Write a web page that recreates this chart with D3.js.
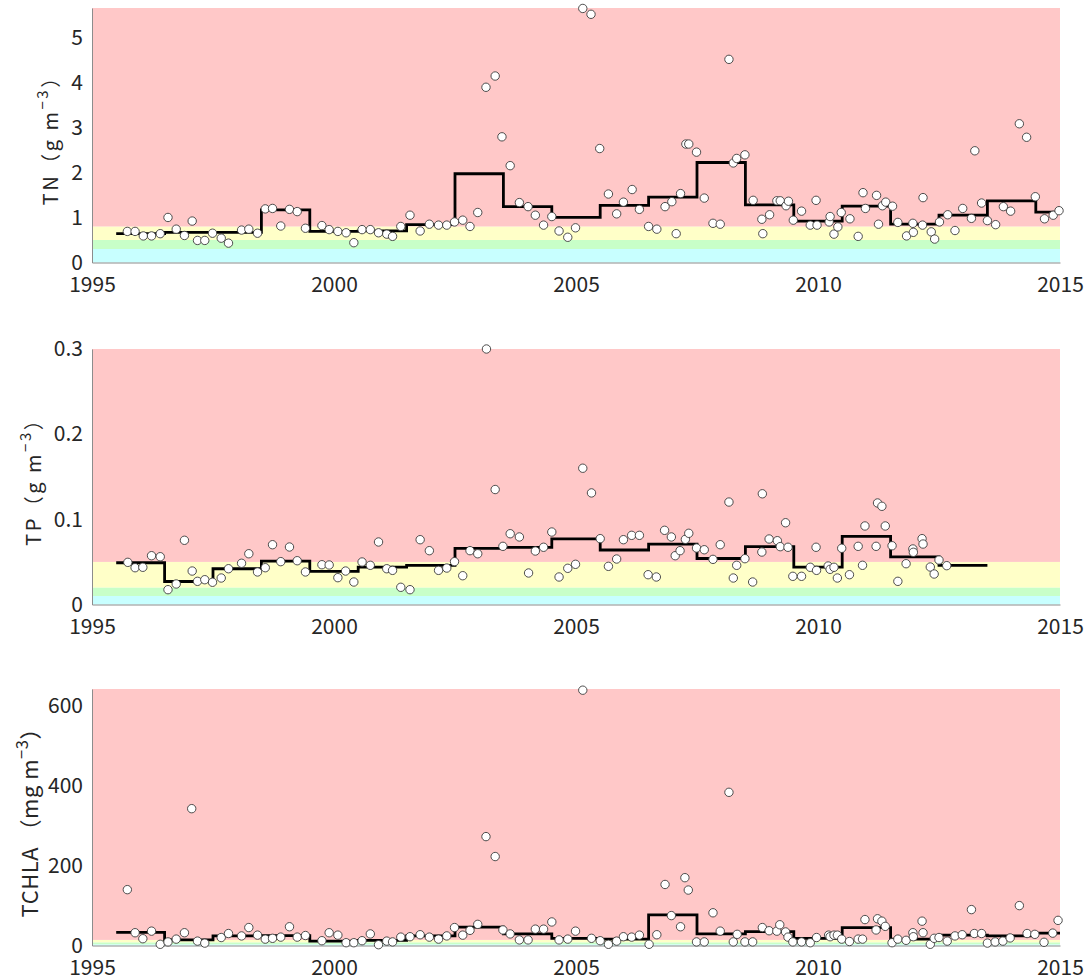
<!DOCTYPE html>
<html>
<head>
<meta charset="utf-8">
<script src="https://cdn.jsdelivr.net/npm/d3@7"></script>
<style>
  html, body { margin: 0; padding: 0; background: #fff; }
  svg { display: block; }
  text { font-family: "Noto Sans CJK JP", "Noto Sans", sans-serif; fill: #262626; }
</style>
</head>
<body>
<svg id="chart" width="1092" height="980"></svg>
<script>
// Fiscal-year step means start at mid-year (year + 0.5)
const stepStart = 1995.5;
const xTicks = [1995, 2000, 2005, 2010, 2015];

// Total nitrogen (g m^-3)
const tnAnnual = [0.64, 0.67, 0.67, 1.17, 0.69, 0.70, 0.84, 1.97, 1.24, 1.00,
                  1.27, 1.45, 2.22, 1.28, 0.92, 1.25, 0.85, 1.05, 1.37, 1.12];
const tnBands = [0.3, 0.5, 0.8];
const tnTicks = [0, 1, 2, 3, 4, 5];
const tnSamples = [
  [1995.73,0.69],[1995.89,0.69],[1996.06,0.59],[1996.23,0.59],[1996.41,0.64],[1996.57,1.00],[1996.74,0.74],[1996.91,0.60],
  [1997.07,0.92],[1997.18,0.49],[1997.33,0.49],[1997.49,0.65],[1997.67,0.54],[1997.82,0.43],
  [1998.09,0.72],[1998.24,0.74],[1998.42,0.65],[1998.58,1.19],[1998.73,1.20],[1998.90,0.81],[1999.08,1.18],[1999.24,1.13],[1999.41,0.76],
  [1999.75,0.82],[1999.90,0.73],[2000.08,0.69],[2000.25,0.66],[2000.41,0.44],[2000.58,0.73],[2000.75,0.73],[2000.92,0.66],
  [2001.09,0.63],[2001.21,0.58],[2001.38,0.80],[2001.57,1.05],[2001.78,0.70],[2001.97,0.85],[2002.16,0.83],[2002.33,0.83],
  [2002.49,0.90],[2002.66,0.94],[2002.81,0.80],[2002.97,1.11],
  [2003.14,3.89],[2003.33,4.14],[2003.47,2.79],[2003.64,2.15],[2003.83,1.33],[2004.01,1.24],[2004.16,1.05],[2004.33,0.83],
  [2004.50,1.02],[2004.65,0.70],[2004.83,0.56],[2004.99,0.77],
  [2005.14,5.64],[2005.31,5.51],[2005.49,2.53],[2005.67,1.52],[2005.84,1.08],[2005.98,1.34],[2006.16,1.62],[2006.31,1.18],
  [2006.50,0.80],[2006.67,0.74],[2006.84,1.24],[2006.98,1.35],
  [2007.07,0.64],[2007.16,1.53],[2007.27,2.63],[2007.33,2.63],[2007.49,2.45],[2007.65,1.43],[2007.83,0.87],[2007.98,0.85],
  [2008.16,4.51],[2008.25,2.21],[2008.32,2.31],[2008.49,2.39],[2008.66,1.38],[2008.84,0.96],[2008.86,0.64],[2009.00,1.06],
  [2009.15,1.37],[2009.22,1.37],[2009.34,1.26],[2009.39,1.36],
  [2009.49,0.94],[2009.66,1.14],[2009.84,0.83],[2009.96,1.38],[2009.98,0.83],[2010.23,0.90],[2010.25,1.02],[2010.33,0.63],
  [2010.41,0.79],[2010.48,1.11],[2010.66,0.97],[2010.83,0.58],[2010.93,1.55],[2010.98,1.20],
  [2011.21,1.49],[2011.25,0.85],[2011.33,1.26],[2011.40,1.34],[2011.54,1.25],[2011.65,0.89],[2011.83,0.59],[2011.96,0.87],[2011.97,0.67],
  [2012.16,0.83],[2012.17,1.44],[2012.34,0.68],[2012.41,0.52],[2012.51,0.90],[2012.68,1.06],[2012.83,0.71],[2012.99,1.20],
  [2013.17,0.98],[2013.24,2.48],[2013.38,1.32],[2013.50,0.93],[2013.67,0.84],[2013.83,1.24],[2013.98,1.14],
  [2014.16,3.08],[2014.31,2.78],[2014.49,1.46],[2014.68,0.97],[2014.86,1.05],[2014.98,1.15]
];

// Total phosphorus (g m^-3)
const tpAnnual = [0.049, 0.027, 0.042, 0.051, 0.039, 0.044, 0.046, 0.066, 0.067, 0.077,
                  0.064, 0.071, 0.054, 0.068, 0.044, 0.080, 0.056, 0.046];
const tpBands = [0.01, 0.02, 0.05];
const tpTicks = [0, 0.1, 0.2, 0.3];
const tpSamples = [
  [1995.74,0.0495],[1995.89,0.0432],[1996.05,0.0437],[1996.23,0.0573],[1996.41,0.0561],[1996.57,0.0174],[1996.74,0.0241],[1996.91,0.0754],
  [1997.07,0.0393],[1997.18,0.0272],[1997.33,0.0291],[1997.49,0.0261],[1997.67,0.0311],[1997.82,0.0420],
  [1998.09,0.0484],[1998.24,0.0596],[1998.42,0.0382],[1998.58,0.0432],[1998.73,0.0702],[1998.90,0.0503],[1999.08,0.0675],[1999.24,0.0514],[1999.41,0.0382],
  [1999.75,0.0467],[1999.90,0.0464],[2000.08,0.0315],[2000.24,0.0393],[2000.41,0.0264],[2000.58,0.0499],[2000.75,0.0460],[2000.92,0.0734],
  [2001.09,0.0420],[2001.21,0.0401],[2001.38,0.0202],[2001.57,0.0174],[2001.78,0.0761],[2001.97,0.0632],[2002.16,0.0401],[2002.33,0.0428],
  [2002.49,0.0503],[2002.66,0.0338],[2002.81,0.0632],[2002.97,0.0596],
  [2003.15,0.300],[2003.33,0.135],[2003.49,0.0683],[2003.64,0.0831],[2003.83,0.0793],[2004.02,0.0370],[2004.16,0.0628],[2004.33,0.0672],
  [2004.50,0.0851],[2004.65,0.0323],[2004.83,0.0425],[2004.99,0.0472],
  [2005.14,0.160],[2005.32,0.131],[2005.50,0.0773],[2005.67,0.0448],[2005.84,0.0534],[2005.98,0.0761],[2006.15,0.0812],[2006.31,0.0812],
  [2006.49,0.0350],[2006.66,0.0323],[2006.83,0.0871],[2006.97,0.0793],
  [2007.05,0.0573],[2007.15,0.0632],[2007.26,0.0765],[2007.33,0.0836],[2007.49,0.0663],[2007.65,0.0643],[2007.83,0.0530],[2007.98,0.0702],
  [2008.16,0.1203],[2008.25,0.0311],[2008.32,0.0460],[2008.49,0.0538],[2008.65,0.0264],[2008.84,0.0616],[2008.85,0.130],[2008.99,0.0769],
  [2009.16,0.0749],[2009.22,0.0679],[2009.33,0.0960],[2009.38,0.0672],
  [2009.48,0.0331],[2009.66,0.0331],[2009.84,0.0437],[2009.96,0.0672],[2009.97,0.0401],[2010.21,0.0452],[2010.25,0.0413],[2010.33,0.0437],
  [2010.40,0.0311],[2010.49,0.0660],[2010.65,0.0350],[2010.83,0.0683],[2010.92,0.0460],[2010.97,0.0922],
  [2011.20,0.0683],[2011.23,0.1192],[2011.32,0.1153],[2011.39,0.0922],[2011.53,0.0690],[2011.65,0.0272],[2011.82,0.0479],[2011.96,0.0652],[2011.97,0.0613],
  [2012.15,0.0773],[2012.17,0.0710],[2012.32,0.0440],[2012.40,0.0358],[2012.50,0.0522],[2012.66,0.0456]
];

// Total chlorophyll-a (mg m^-3)
const chlAnnual = [33, 14, 24, 25, 11, 13, 24, 46, 29, 18,
                   16, 77, 29, 35, 18, 45, 16, 26, 24, 31];
const chlBands = [3, 8, 14];
const chlTicks = [0, 200, 400, 600];
const chlSamples = [
  [1995.73,140],[1995.89,32],[1996.05,17],[1996.23,36],[1996.41,3],[1996.57,9],[1996.74,16],[1996.91,32],
  [1997.06,343],[1997.18,11],[1997.33,6],[1997.67,20],[1997.82,30],
  [1998.09,24],[1998.24,45],[1998.42,26],[1998.58,16],[1998.73,18],[1998.90,21],[1999.08,47],[1999.24,21],[1999.41,25],
  [1999.75,12],[1999.90,32],[2000.08,26],[2000.25,7],[2000.41,7],[2000.58,12],[2000.75,29],[2000.92,2],
  [2001.09,11],[2001.21,9],[2001.38,21],[2001.57,22],[2001.78,27],[2001.97,21],[2002.16,16],[2002.33,24],
  [2002.49,45],[2002.66,26],[2002.81,38],[2002.97,53],
  [2003.14,273],[2003.33,223],[2003.49,39],[2003.64,29],[2003.83,14],[2004.01,14],[2004.16,41],[2004.33,41],
  [2004.50,59],[2004.65,14],[2004.83,16],[2004.99,36],
  [2005.14,640],[2005.32,18],[2005.50,12],[2005.67,3],[2005.84,11],[2005.98,22],[2006.15,21],[2006.31,26],
  [2006.51,3],[2006.67,27],[2006.84,153],[2006.97,75],
  [2007.16,47],[2007.25,170],[2007.32,139],[2007.49,9],[2007.65,9],[2007.83,82],[2007.98,36],
  [2008.16,384],[2008.25,9],[2008.33,28],[2008.49,9],[2008.65,9],[2008.85,45],[2008.99,37],[2009.15,36],
  [2009.21,52],[2009.33,34],[2009.38,21],
  [2009.48,9],[2009.66,9],[2009.84,7],[2009.97,20],[2010.22,26],[2010.25,22],[2010.33,26],[2010.40,26],
  [2010.49,16],[2010.65,10],[2010.83,16],[2010.92,16],[2010.97,65],
  [2011.20,39],[2011.23,67],[2011.32,61],[2011.39,48],[2011.53,7],[2011.65,16],[2011.82,13],[2011.96,32],[2011.97,22],
  [2012.15,61],[2012.17,32],[2012.32,3],[2012.40,18],[2012.50,20],[2012.67,11],[2012.83,24],[2012.98,27],
  [2013.17,90],[2013.23,30],[2013.38,30],[2013.50,6],[2013.66,9],[2013.82,11],[2013.97,19],
  [2014.16,100],[2014.32,30],[2014.48,28],[2014.67,8],[2014.85,31],[2014.96,63]
];

const bandColors = ["#c8ffff", "#c8ffc8", "#ffffc8", "#ffc8c8"];

const panels = [
  { name: "TN", annual: tnAnnual, samples: tnSamples, bands: tnBands, ticks: tnTicks,
    yMax: 5.65, top: 8, bottom: 262.5, labelX: 58, labelSize: 20, spacing: 2.5, gap: "", unit: "g m" },
  { name: "TP", annual: tpAnnual, samples: tpSamples, bands: tpBands, ticks: tpTicks,
    yMax: 0.3, top: 349, bottom: 604.5, labelX: 41, labelSize: 20, spacing: 2.5, gap: "", unit: "g m" },
  { name: "TCHLA", annual: chlAnnual, samples: chlSamples, bands: chlBands, ticks: chlTicks,
    yMax: 643, top: 689, bottom: 945.5, labelX: 38, labelSize: 22, spacing: 0.5, gap: " ", unit: "mg m" }
];

const svg = d3.select("#chart");
const left = 92, right = 1060;
const x = d3.scaleLinear().domain([1995, 2015]).range([left, right]);

panels.forEach(p => {
  const y = d3.scaleLinear().domain([0, p.yMax]).range([p.bottom, p.top]);
  const g = svg.append("g");

  // trophic-state background bands
  const edges = [0, ...p.bands, p.yMax];
  g.selectAll("rect.band").data(d3.range(edges.length - 1)).join("rect")
    .attr("class", "band")
    .attr("x", x(1995)).attr("width", x(2015) - x(1995))
    .attr("y", k => y(edges[k + 1]))
    .attr("height", k => y(edges[k]) - y(edges[k + 1]))
    .attr("fill", k => bandColors[k]);

  // axes: left and bottom spines only, labels without tick marks
  const yAxis = d3.axisLeft(y).tickValues(p.ticks).tickSize(0).tickPadding(9)
    .tickFormat(d => d === 0 ? "0" : d3.format("~g")(d));
  const ay = g.append("g").attr("transform", `translate(${left},0)`).call(yAxis);
  const xAxis = d3.axisBottom(x).tickValues(xTicks).tickSize(0).tickPadding(15).tickFormat(d3.format("d"));
  const ax = g.append("g").attr("transform", `translate(0,${p.bottom})`).call(xAxis);
  [ay, ax].forEach(a => {
    a.select(".domain").attr("stroke", "#8c8c8c").attr("stroke-width", 1);
    a.selectAll("text").attr("font-size", 21).attr("fill", "#262626")
      .attr("font-family", "'Noto Sans CJK JP', 'Noto Sans', sans-serif");
  });

  // annual step means
  const lastStart = stepStart + p.annual.length - 1;
  const stepPts = p.annual.map((v, k) => [stepStart + k, v]);
  stepPts.push([Math.min(lastStart + 1, 2015), p.annual[p.annual.length - 1]]);
  const line = d3.line().x(d => x(d[0])).y(d => y(d[1])).curve(d3.curveStepAfter);
  g.append("path").datum(stepPts)
    .attr("d", line).attr("fill", "none")
    .attr("stroke", "#000").attr("stroke-width", 2.8);

  // individual samples
  g.selectAll("circle").data(p.samples).join("circle")
    .attr("cx", d => x(d[0])).attr("cy", d => y(d[1]))
    .attr("r", 4.2)
    .attr("fill", "#fff").attr("stroke", "#3a3a3a").attr("stroke-width", 0.9);

  // y-axis title with superscript unit exponent
  const cy = (p.top + p.bottom) / 2;
  const t = g.append("text")
    .attr("transform", `translate(${p.labelX},${cy}) rotate(-90)`)
    .attr("text-anchor", "middle")
    .attr("letter-spacing", p.spacing)
    .attr("font-size", p.labelSize);
  t.append("tspan").text(`${p.name}${p.gap}（${p.unit}`);
  t.append("tspan").attr("dy", -10).attr("font-size", p.labelSize * 0.75).text("−3");
  t.append("tspan").attr("dy", 10).text("）");
});
</script>
</body>
</html>
